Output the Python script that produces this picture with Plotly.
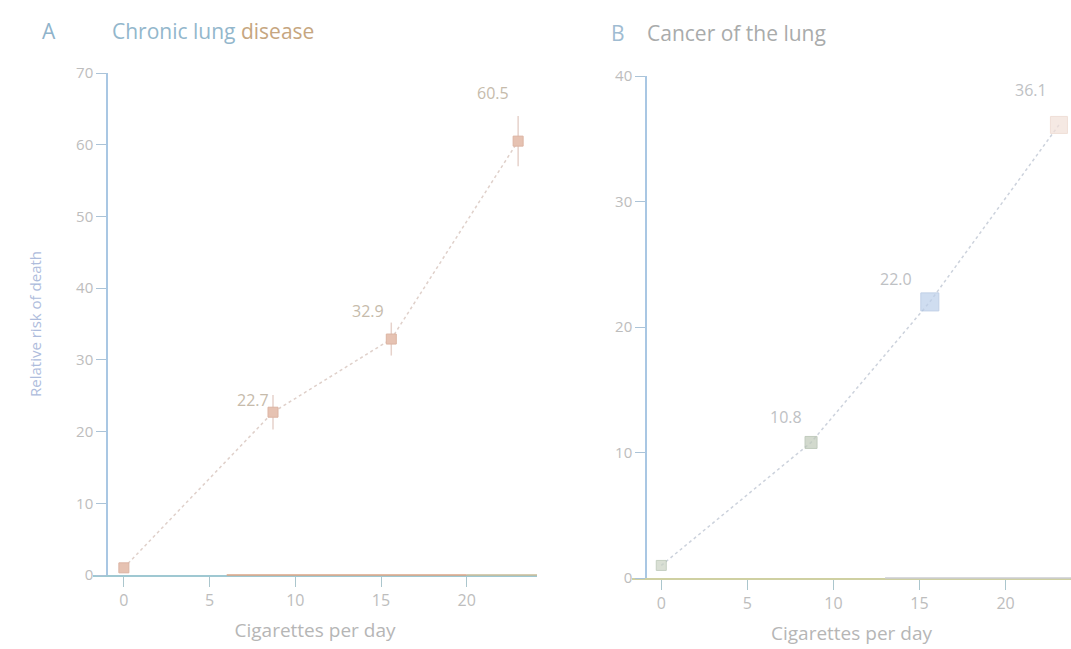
import plotly.graph_objects as go

# Relative risk of death by cigarettes smoked per day
cig_a = [0, 8.7, 15.6, 23.0]
risk_a = [1.0, 22.7, 32.9, 60.5]
err_a = [0, 2.4, 2.3, 3.5]
labels_a = ["", "22.7", "32.9", "60.5"]

cig_b = [0, 8.7, 15.6, 23.1]
risk_b = [1.0, 10.8, 22.0, 36.1]
labels_b = ["", "10.8", "22.0", "36.1"]

x_ticks = [0, 5, 10, 15, 20]
y_ticks_a = [0, 10, 20, 30, 40, 50, 60, 70]
y_ticks_b = [0, 10, 20, 30, 40]

W, H = 1071, 649
FONT = "Open Sans"
TICK_COLOR = "#bdbdbd"

fig = go.Figure()

# Panel A
fig.add_trace(go.Scatter(
    x=cig_a, y=risk_a, mode="lines+markers",
    line=dict(color="#dfd0ca", width=1.5, dash="dot"),
    marker=dict(symbol="square", size=10, color="#e6c2b2",
                line=dict(color="#dcb4a3", width=1)),
    error_y=dict(type="data", array=err_a, visible=True,
                 color="#e6d2cb", thickness=1.5, width=0),
    xaxis="x", yaxis="y", showlegend=False, hoverinfo="skip"))

# Panel B
fig.add_trace(go.Scatter(
    x=cig_b, y=risk_b, mode="lines+markers",
    line=dict(color="#ccd2dc", width=1.5, dash="dot"),
    marker=dict(symbol="square", size=[10, 12, 18, 17],
                color=["#c9d2c3", "#bfc9b9", "#bccfea", "#f2e0d8"],
                line=dict(color=["#adbca8", "#a8b6a2", "#a6bcdd", "#ead3c8"], width=1)),
    xaxis="x2", yaxis="y2", showlegend=False, hoverinfo="skip"))

label_shift_a = [(0, 0), (-20, 12), (-23, 28), (-25, 48)]
label_shift_b = [(0, 0), (-25, 25), (-34, 23), (-28, 35)]

annotations = []
for xv, yv, t, (dx, dy) in zip(cig_a, risk_a, labels_a, label_shift_a):
    if t:
        annotations.append(dict(x=xv, y=yv, xref="x", yref="y", text=t,
                                showarrow=False, xshift=dx, yshift=dy,
                                font=dict(family=FONT, size=16, color="#c6bbab")))
for xv, yv, t, (dx, dy) in zip(cig_b, risk_b, labels_b, label_shift_b):
    if t:
        annotations.append(dict(x=xv, y=yv, xref="x2", yref="y2", text=t,
                                showarrow=False, xshift=dx, yshift=dy,
                                font=dict(family=FONT, size=16, color="#bec1c4")))

# Panel titles
annotations.append(dict(
    x=40 / W, y=1 - 31 / H, xref="paper", yref="paper", xanchor="left", yanchor="middle",
    showarrow=False, text="A",
    font=dict(family=FONT, size=21, color="#8fb3cb")))
annotations.append(dict(
    x=110 / W, y=1 - 31 / H, xref="paper", yref="paper", xanchor="left", yanchor="middle",
    showarrow=False,
    text="<span style='color:#93b7cc'>Chronic lung </span>"
         "<span style='color:#c6a680'>disease</span>",
    font=dict(family=FONT, size=21)))
annotations.append(dict(
    x=609 / W, y=1 - 33 / H, xref="paper", yref="paper", xanchor="left", yanchor="middle",
    showarrow=False, text="B",
    font=dict(family=FONT, size=21, color="#9fbcd2")))
annotations.append(dict(
    x=645 / W, y=1 - 33 / H, xref="paper", yref="paper", xanchor="left", yanchor="middle",
    showarrow=False, text="Cancer of the lung",
    font=dict(family=FONT, size=21, color="#a9abab")))

def x_axis(domain, rng, anchor, linecolor):
    return dict(domain=domain, range=rng, anchor=anchor, automargin=False,
                showline=True, linecolor=linecolor, linewidth=1.5,
                ticks="outside", ticklen=10, tickcolor="#abc6cd", tickwidth=1,
                tickvals=x_ticks, showgrid=False, zeroline=False,
                tickfont=dict(family=FONT, size=16, color=TICK_COLOR),
                title=dict(text="Cigarettes per day", standoff=14,
                           font=dict(family=FONT, size=19, color="#b6b6b6")))

def y_axis(domain, rng, position, ticks, title=""):
    return dict(domain=domain, range=rng, anchor="free", position=position,
                automargin=False,
                showline=True, linecolor="#a9c7e3", linewidth=1.5,
                ticks="outside", ticklen=10, tickcolor="#abc3d7", tickwidth=1,
                tickvals=ticks, showgrid=False, zeroline=False,
                tickfont=dict(family=FONT, size=15, color=TICK_COLOR),
                title=dict(text=title, standoff=30,
                           font=dict(family=FONT, size=15, color="#aebcdc")))

ya_dom = [(H - 575) / H, (H - 73) / H]
yb_dom = [(H - 578) / H, (H - 76) / H]

fig.update_layout(
    width=W, height=H,
    margin=dict(l=0, r=0, t=0, b=0),
    paper_bgcolor="white", plot_bgcolor="white",
    xaxis=x_axis([93 / W, 537 / W], [-1.8, 24.1], "y", "#9fc8d2"),
    yaxis=y_axis(ya_dom, [0, 70], 107 / W, y_ticks_a, "Relative risk of death"),
    xaxis2=x_axis([632 / W, 1.0], [-1.7, 23.8], "y2", "#cfd0a2"),
    yaxis2=y_axis(yb_dom, [0, 40], 646 / W, y_ticks_b),
    annotations=annotations,
    shapes=[
        # warm tint along the right part of panel A's baseline
        dict(type="line", xref="x", yref="paper", x0=6, x1=20, y0=ya_dom[0], y1=ya_dom[0],
             line=dict(color="#dba585", width=1.5), layer="above"),
        dict(type="line", xref="x", yref="paper", x0=20, x1=24.1, y0=ya_dom[0], y1=ya_dom[0],
             line=dict(color="#c9bc98", width=1.5), layer="above"),
        dict(type="line", xref="x2", yref="paper", x0=13, x1=23.8, y0=yb_dom[0], y1=yb_dom[0],
             line=dict(color="#cbcdd2", width=1.5), layer="above"),
    ],
)

fig.write_html("out.html")
